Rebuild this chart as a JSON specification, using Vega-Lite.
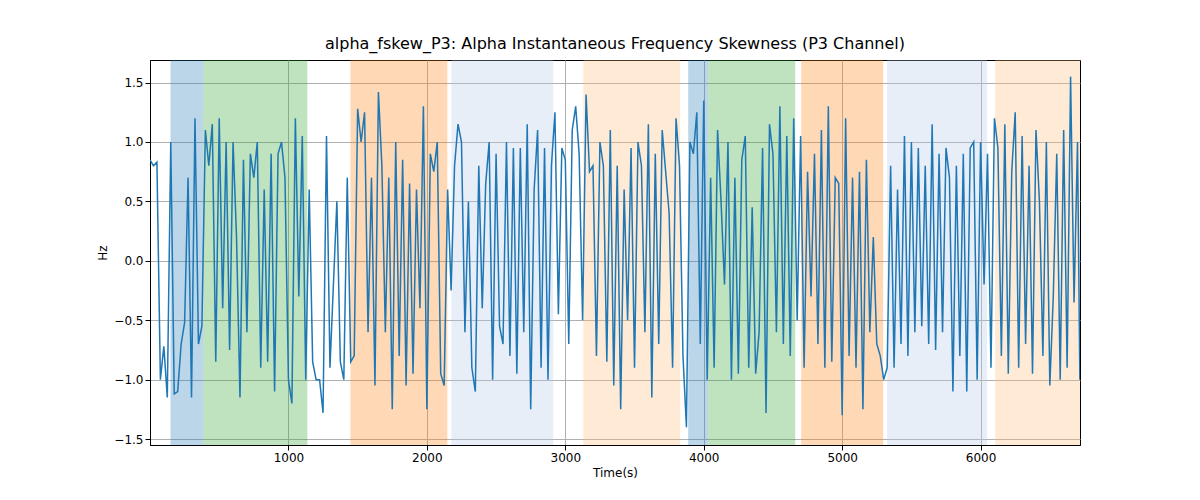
{
  "$schema": "https://vega.github.io/schema/vega-lite/v6.json",
  "width": 930,
  "height": 385,
  "autosize": "none",
  "padding": {"left": 150, "top": 60, "right": 120, "bottom": 55},
  "background": "white",
  "config": {"font": "DejaVu Sans", "view": {"stroke": "black"}, "axis": {"labelFontSize": 12, "titleFontSize": 12, "titleFontWeight": "normal", "gridColor": "#b0b0b0", "domainColor": "black", "tickColor": "black", "labelColor": "black", "titleColor": "black"}},
  "title": {"text": "alpha_fskew_P3: Alpha Instantaneous Frequency Skewness (P3 Channel)", "fontSize": 16, "fontWeight": "normal", "offset": 8},
  "datasets": {
    "bands": [
      {"start": 148, "end": 386, "phase": "a"},
      {"start": 386, "end": 1137, "phase": "b"},
      {"start": 1448, "end": 2148, "phase": "c"},
      {"start": 2177, "end": 2913, "phase": "d"},
      {"start": 3130, "end": 3830, "phase": "e"},
      {"start": 3888, "end": 4032, "phase": "a"},
      {"start": 4032, "end": 4661, "phase": "b"},
      {"start": 4704, "end": 5296, "phase": "c"},
      {"start": 5325, "end": 6047, "phase": "d"},
      {"start": 6105, "end": 6718, "phase": "e"}
    ],
    "series": [
      {"i":0,"v":0.85},{"i":1,"v":0.80},{"i":2,"v":0.83},{"i":3,"v":-1.0},{"i":4,"v":-0.72},{"i":5,"v":-1.15},{"i":6,"v":1.0},{"i":7,"v":-1.12},{"i":8,"v":-1.10},{"i":9,"v":-0.70},
      {"i":10,"v":-0.52},{"i":11,"v":0.70},{"i":12,"v":-1.15},{"i":13,"v":1.20},{"i":14,"v":-0.70},{"i":15,"v":-0.55},{"i":16,"v":1.10},{"i":17,"v":0.80},{"i":18,"v":1.15},{"i":19,"v":-0.85},
      {"i":20,"v":1.20},{"i":21,"v":-0.40},{"i":22,"v":1.00},{"i":23,"v":-0.75},{"i":24,"v":1.00},{"i":25,"v":0.20},{"i":26,"v":-1.15},{"i":27,"v":0.85},{"i":28,"v":-0.60},{"i":29,"v":0.90},
      {"i":30,"v":0.70},{"i":31,"v":1.00},{"i":32,"v":-0.90},{"i":33,"v":0.60},{"i":34,"v":-0.85},{"i":35,"v":0.90},{"i":36,"v":-1.10},{"i":37,"v":0.90},{"i":38,"v":1.00},{"i":39,"v":0.70},
      {"i":40,"v":-1.00},{"i":41,"v":-1.20},{"i":42,"v":1.20},{"i":43,"v":-0.30},{"i":44,"v":1.05},{"i":45,"v":-1.00},{"i":46,"v":0.60},{"i":47,"v":-0.85},{"i":48,"v":-1.00},{"i":49,"v":-1.00},
      {"i":50,"v":-1.28},{"i":51,"v":1.05},{"i":52,"v":-0.90},{"i":53,"v":-0.20},{"i":54,"v":0.50},{"i":55,"v":-0.85},{"i":56,"v":-1.00},{"i":57,"v":0.70},{"i":58,"v":-0.85},{"i":59,"v":-0.80},
      {"i":60,"v":1.28},{"i":61,"v":1.00},{"i":62,"v":1.25},{"i":63,"v":-0.60},{"i":64,"v":0.70},{"i":65,"v":-1.05},{"i":66,"v":1.42},{"i":67,"v":0.80},{"i":68,"v":-0.60},{"i":69,"v":0.70},
      {"i":70,"v":-1.25},{"i":71,"v":1.00},{"i":72,"v":-0.80},{"i":73,"v":0.85},{"i":74,"v":-1.05},{"i":75,"v":0.65},{"i":76,"v":-0.95},{"i":77,"v":0.60},{"i":78,"v":-0.40},{"i":79,"v":1.30},
      {"i":80,"v":-1.25},{"i":81,"v":0.90},{"i":82,"v":0.75},{"i":83,"v":1.00},{"i":84,"v":-0.95},{"i":85,"v":-1.05},{"i":86,"v":0.60},{"i":87,"v":-0.25},{"i":88,"v":0.80},{"i":89,"v":1.15},
      {"i":90,"v":1.00},{"i":91,"v":-0.60},{"i":92,"v":0.50},{"i":93,"v":-0.90},{"i":94,"v":-1.10},{"i":95,"v":0.80},{"i":96,"v":-0.40},{"i":97,"v":0.65},{"i":98,"v":1.00},{"i":99,"v":-1.00},
      {"i":100,"v":0.90},{"i":101,"v":-0.55},{"i":102,"v":-0.70},{"i":103,"v":1.00},{"i":104,"v":-0.80},{"i":105,"v":0.95},{"i":106,"v":-0.95},{"i":107,"v":0.95},{"i":108,"v":-0.60},{"i":109,"v":1.15},
      {"i":110,"v":-1.25},{"i":111,"v":0.60},{"i":112,"v":1.10},{"i":113,"v":-0.90},{"i":114,"v":0.95},{"i":115,"v":-1.00},{"i":116,"v":0.80},{"i":117,"v":1.25},{"i":118,"v":-0.45},{"i":119,"v":0.95},
      {"i":120,"v":0.85},{"i":121,"v":-0.70},{"i":122,"v":1.10},{"i":123,"v":1.30},{"i":124,"v":0.90},{"i":125,"v":-0.50},{"i":126,"v":1.40},{"i":127,"v":0.75},{"i":128,"v":0.80},{"i":129,"v":-0.80},
      {"i":130,"v":1.00},{"i":131,"v":0.80},{"i":132,"v":-0.85},{"i":133,"v":1.10},{"i":134,"v":-1.05},{"i":135,"v":0.80},{"i":136,"v":-1.25},{"i":137,"v":0.60},{"i":138,"v":-0.50},{"i":139,"v":0.95},
      {"i":140,"v":-0.90},{"i":141,"v":1.00},{"i":142,"v":0.80},{"i":143,"v":-0.60},{"i":144,"v":1.15},{"i":145,"v":-1.15},{"i":146,"v":0.90},{"i":147,"v":-0.70},{"i":148,"v":1.10},{"i":149,"v":0.75},
      {"i":150,"v":0.40},{"i":151,"v":-0.90},{"i":152,"v":1.20},{"i":153,"v":0.80},{"i":154,"v":-0.80},{"i":155,"v":-1.40},{"i":156,"v":1.00},{"i":157,"v":0.90},{"i":158,"v":1.25},{"i":159,"v":-0.70},
      {"i":160,"v":1.35},{"i":161,"v":-1.00},{"i":162,"v":0.70},{"i":163,"v":-0.90},{"i":164,"v":1.10},{"i":165,"v":0.50},{"i":166,"v":-0.20},{"i":167,"v":1.00},{"i":168,"v":-1.00},{"i":169,"v":0.70},
      {"i":170,"v":-0.95},{"i":171,"v":0.85},{"i":172,"v":1.05},{"i":173,"v":-0.90},{"i":174,"v":0.45},{"i":175,"v":-0.95},{"i":176,"v":-0.60},{"i":177,"v":0.95},{"i":178,"v":-1.28},{"i":179,"v":1.15},
      {"i":180,"v":0.90},{"i":181,"v":-0.60},{"i":182,"v":1.30},{"i":183,"v":-0.70},{"i":184,"v":1.05},{"i":185,"v":-0.80},{"i":186,"v":1.20},{"i":187,"v":-0.50},{"i":188,"v":1.05},{"i":189,"v":-0.90},
      {"i":190,"v":0.75},{"i":191,"v":-0.30},{"i":192,"v":0.90},{"i":193,"v":-0.70},{"i":194,"v":1.10},{"i":195,"v":-0.90},{"i":196,"v":1.30},{"i":197,"v":-0.85},{"i":198,"v":0.70},{"i":199,"v":0.65},
      {"i":200,"v":-1.30},{"i":201,"v":1.20},{"i":202,"v":-0.80},{"i":203,"v":0.70},{"i":204,"v":-0.90},{"i":205,"v":0.75},{"i":206,"v":-1.25},{"i":207,"v":0.85},{"i":208,"v":-0.60},{"i":209,"v":0.20},
      {"i":210,"v":-0.70},{"i":211,"v":-0.80},{"i":212,"v":-1.00},{"i":213,"v":-0.90},{"i":214,"v":0.80},{"i":215,"v":-0.90},{"i":216,"v":0.60},{"i":217,"v":-0.70},{"i":218,"v":1.05},{"i":219,"v":-0.80},
      {"i":220,"v":1.00},{"i":221,"v":-0.60},{"i":222,"v":0.95},{"i":223,"v":-0.55},{"i":224,"v":0.80},{"i":225,"v":-0.70},{"i":226,"v":1.15},{"i":227,"v":-0.75},{"i":228,"v":0.90},{"i":229,"v":-0.60},
      {"i":230,"v":0.95},{"i":231,"v":0.70},{"i":232,"v":-1.10},{"i":233,"v":0.80},{"i":234,"v":-0.80},{"i":235,"v":0.90},{"i":236,"v":-1.10},{"i":237,"v":0.95},{"i":238,"v":1.00},{"i":239,"v":-1.00},
      {"i":240,"v":1.00},{"i":241,"v":-0.20},{"i":242,"v":0.90},{"i":243,"v":-0.90},{"i":244,"v":1.20},{"i":245,"v":0.95},{"i":246,"v":-0.80},{"i":247,"v":1.15},{"i":248,"v":-0.95},{"i":249,"v":0.75},
      {"i":250,"v":1.25},{"i":251,"v":-0.90},{"i":252,"v":1.05},{"i":253,"v":-0.70},{"i":254,"v":0.80},{"i":255,"v":-0.95},{"i":256,"v":1.10},{"i":257,"v":0.50},{"i":258,"v":-0.80},{"i":259,"v":1.00},
      {"i":260,"v":-1.05},{"i":261,"v":-0.30},{"i":262,"v":0.90},{"i":263,"v":-1.00},{"i":264,"v":1.10},{"i":265,"v":-0.90},{"i":266,"v":1.55},{"i":267,"v":-0.35},{"i":268,"v":1.00},{"i":269,"v":-1.00}
    ]
  },
  "layer": [
    {
      "data": {"name": "bands"},
      "mark": {"type": "rect", "opacity": 0.3},
      "encoding": {
        "x": {"field": "start", "type": "quantitative", "scale": {"domain": [0, 6718], "nice": false, "zero": false}},
        "x2": {"field": "end"},
        "color": {"field": "phase", "type": "nominal", "legend": null, "scale": {"domain": ["a", "b", "c", "d", "e"], "range": ["#1f77b4", "#2ca02c", "#ff7f0e", "#aec7e8", "#ffbb78"]}}
      }
    },
    {
      "data": {"name": "series"},
      "transform": [{"calculate": "min(datum.i * 25, 6717)", "as": "t"}],
      "mark": {"type": "line", "color": "#1f77b4", "strokeWidth": 1.5, "clip": true},
      "encoding": {
        "x": {"field": "t", "type": "quantitative", "title": "Time(s)", "scale": {"domain": [0, 6718], "nice": false, "zero": false}, "axis": {"values": [1000, 2000, 3000, 4000, 5000, 6000], "format": "d", "grid": true}},
        "y": {"field": "v", "type": "quantitative", "title": "Hz", "scale": {"domain": [-1.55, 1.69], "nice": false}, "axis": {"values": [-1.5, -1.0, -0.5, 0, 0.5, 1.0, 1.5], "format": ".1f", "grid": true}}
      }
    }
  ]
}
